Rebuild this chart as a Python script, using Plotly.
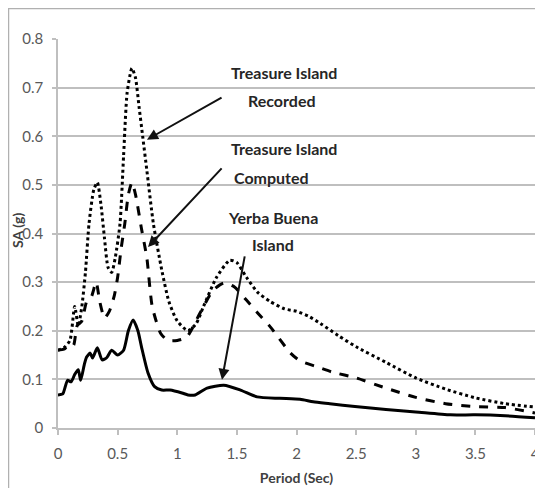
import plotly.graph_objects as go

# ---- data ----
period_recorded = [0, 0.05, 0.1, 0.14, 0.17, 0.2, 0.23, 0.26, 0.3, 0.33, 0.36, 0.39, 0.42, 0.45,
                   0.48, 0.52, 0.55, 0.58, 0.62, 0.65, 0.68, 0.71, 0.745, 0.8, 0.87, 0.93, 1.0,
                   1.09, 1.16, 1.22, 1.33, 1.44, 1.5, 1.58, 1.67, 1.78, 1.9, 2.0, 2.1, 2.2, 2.35,
                   2.5, 2.75, 3.0, 3.25, 3.5, 3.75, 4.0]
sa_recorded = [0.16, 0.165, 0.18, 0.25, 0.21, 0.25, 0.32, 0.42, 0.49, 0.505, 0.46, 0.39, 0.33, 0.32,
               0.35, 0.42, 0.56, 0.69, 0.74, 0.72, 0.66, 0.6, 0.53, 0.42, 0.325, 0.26, 0.22,
               0.2, 0.215, 0.25, 0.31, 0.345, 0.34, 0.31, 0.28, 0.26, 0.245, 0.24, 0.23, 0.215, 0.19,
               0.167, 0.135, 0.103, 0.08, 0.062, 0.05, 0.043]

period_computed = [0, 0.05, 0.1, 0.13, 0.16, 0.2, 0.24, 0.28, 0.32, 0.35, 0.39, 0.43, 0.47, 0.5,
                   0.53, 0.56, 0.59, 0.62, 0.65, 0.7, 0.745, 0.79, 0.86, 0.92, 1.0, 1.08, 1.19,
                   1.3, 1.39, 1.48, 1.58, 1.68, 1.78, 1.95, 2.03, 2.17, 2.3, 2.5, 2.75, 3.0, 3.25,
                   3.5, 3.75, 4.0]
sa_computed = [0.16, 0.162, 0.172, 0.17, 0.21, 0.22, 0.26, 0.27, 0.3, 0.26, 0.226, 0.24, 0.27, 0.31,
               0.37, 0.42, 0.48, 0.505, 0.48, 0.41, 0.35, 0.25, 0.195, 0.18, 0.18, 0.187, 0.236,
               0.283, 0.298, 0.29, 0.263, 0.235, 0.208, 0.154, 0.138, 0.126, 0.115, 0.103, 0.082,
               0.063, 0.05, 0.044, 0.042, 0.031]

period_yerba = [0, 0.04, 0.08, 0.11, 0.14, 0.17, 0.19, 0.22, 0.24, 0.27, 0.29, 0.33, 0.37, 0.41,
                0.45, 0.5, 0.55, 0.59, 0.63, 0.67, 0.7, 0.755, 0.81, 0.87, 0.94, 1.04, 1.09, 1.15,
                1.25, 1.39, 1.53, 1.67, 1.86, 2.03, 2.14, 2.28, 2.49, 2.75, 3.0, 3.29, 3.5, 3.75, 4.0]
sa_yerba = [0.068, 0.07, 0.098, 0.095, 0.11, 0.12, 0.098, 0.13, 0.146, 0.154, 0.144, 0.165, 0.14,
            0.145, 0.16, 0.15, 0.16, 0.2, 0.222, 0.2, 0.167, 0.113, 0.085, 0.078, 0.078, 0.072,
            0.068, 0.068, 0.082, 0.088, 0.078, 0.064, 0.061, 0.059, 0.054, 0.05, 0.044, 0.038,
            0.033, 0.027, 0.027, 0.025, 0.021]

x_ticks = [0, 0.5, 1, 1.5, 2, 2.5, 3, 3.5, 4]
x_tick_labels = ["0", "0.5", "1", "1.5", "2", "2.5", "3", "3.5", "4"]
y_ticks = [0, 0.1, 0.2, 0.3, 0.4, 0.5, 0.6, 0.7, 0.8]
y_tick_labels = ["0", "0.1", "0.2", "0.3", "0.4", "0.5", "0.6", "0.7", "0.8"]

FONT = "Lato, Open Sans, sans-serif"

fig = go.Figure()
fig.add_trace(go.Scatter(x=period_recorded, y=sa_recorded, mode="lines",
                         line=dict(color="black", width=3, dash="dot", shape="spline", smoothing=0.6),
                         name="Treasure Island Recorded"))
fig.add_trace(go.Scatter(x=period_computed, y=sa_computed, mode="lines",
                         line=dict(color="black", width=3, dash="dash", shape="spline", smoothing=0.6),
                         name="Treasure Island Computed"))
fig.add_trace(go.Scatter(x=period_yerba, y=sa_yerba, mode="lines",
                         line=dict(color="black", width=3, shape="spline", smoothing=0.6),
                         name="Yerba Buena Island"))

# arrows
arrows = [
    ((0.746, 0.593), (1.384, 0.681)),
    ((0.755, 0.372), (1.384, 0.537)),
    ((1.375, 0.099), (1.568, 0.356)),
]
for (hx, hy), (tx, ty) in arrows:
    fig.add_annotation(x=hx, y=hy, ax=tx, ay=ty, xref="x", yref="y", axref="x", ayref="y",
                       text="", showarrow=True, arrowhead=2, arrowsize=1.1, arrowwidth=2,
                       arrowcolor="#111111")

labels = [
    ("Treasure Island", 1.895, 0.731),
    ("Recorded", 1.878, 0.673),
    ("Treasure Island", 1.895, 0.574),
    ("Computed", 1.79, 0.515),
    ("Yerba Buena", 1.807, 0.432),
    ("Island", 1.803, 0.377),
]
for t, x, y in labels:
    fig.add_annotation(x=x, y=y, xref="x", yref="y", text="<b>" + t + "</b>", showarrow=False,
                       font=dict(family=FONT, size=16, color="#262626"), xanchor="center",
                       yanchor="middle")

# y-axis title placed as rotated text
fig.add_annotation(x=-0.0839, y=0.509, xref="paper", yref="paper", text="<b>SA (g)</b>",
                   textangle=-90, showarrow=False, xanchor="center", yanchor="middle",
                   font=dict(family=FONT, size=14, color="#404040"))

# frame border
fig.add_shape(type="rect", xref="paper", yref="paper", x0=-0.1038, y0=-0.25, x1=1.0126, y1=1.0784,
              line=dict(color="#b0b0b0", width=1.5), layer="below")

fig.update_layout(
    width=535, height=480,
    margin=dict(l=50, r=8, t=31, b=60, autoexpand=False),
    paper_bgcolor="white", plot_bgcolor="white",
    showlegend=False,
    font=dict(family=FONT, size=15, color="#595959"),
    xaxis=dict(range=[0, 4], tickvals=x_ticks, ticktext=x_tick_labels, showgrid=False,
               showline=True, linecolor="#bfbfbf", linewidth=1.5, ticks="outside", ticklen=5,
               tickcolor="#bfbfbf", tickwidth=1.5, zeroline=False, ticklabelstandoff=6,
               ticklabeloverflow="allow", automargin=False,
               title=dict(text="<b>Period (Sec)</b>", font=dict(family=FONT, size=14, color="#404040"),
                          standoff=12)),
    yaxis=dict(range=[0, 0.8], tickvals=y_ticks, ticktext=y_tick_labels, showgrid=True,
               gridcolor="#bfbfbf", gridwidth=1.5, showline=True, linecolor="#bfbfbf",
               linewidth=1.5, ticks="outside", ticklen=4, tickcolor="#bfbfbf", tickwidth=1.5,
               zeroline=False, ticklabelstandoff=6, ticklabeloverflow="allow", automargin=False),
)

fig.write_html("out.html")
